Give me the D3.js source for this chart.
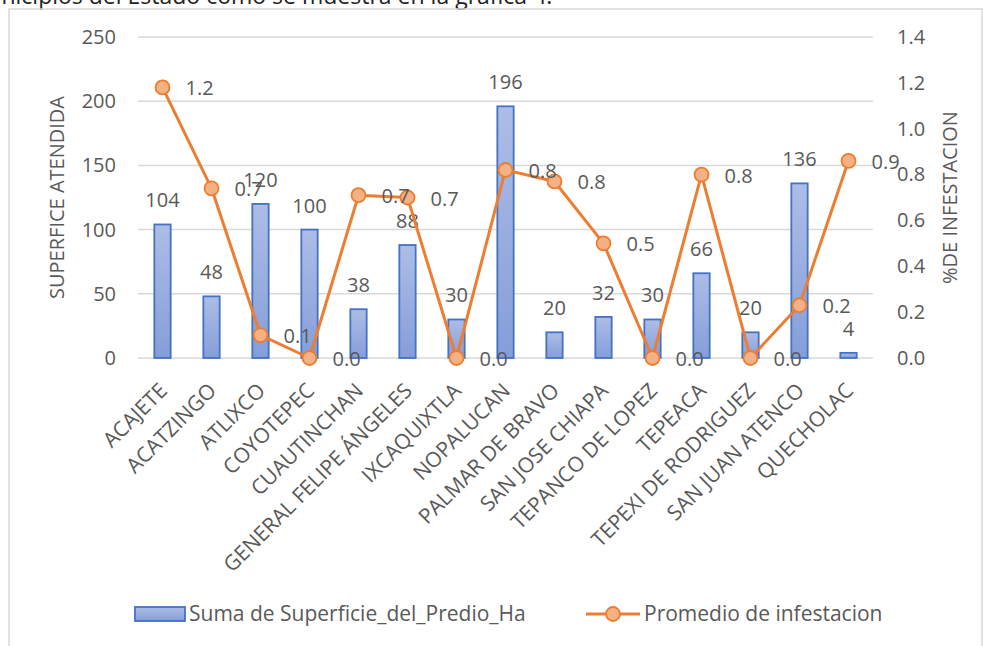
<!DOCTYPE html>
<html>
<head>
<meta charset="utf-8">
<script src="https://cdnjs.cloudflare.com/ajax/libs/d3/7.8.5/d3.min.js"></script>
<style>
  html, body { margin: 0; padding: 0; background: #fff; overflow: hidden; }
  svg text { font-family: "Open Sans", "Noto Sans", sans-serif; }
</style>
</head>
<body>
<div id="chart"></div>
<script>
const municipios = ['ACAJETE', 'ACATZINGO', 'ATLIXCO', 'COYOTEPEC', 'CUAUTINCHAN',
    'GENERAL FELIPE ÁNGELES', 'IXCAQUIXTLA', 'NOPALUCAN', 'PALMAR DE BRAVO',
    'SAN JOSE CHIAPA', 'TEPANCO DE LOPEZ', 'TEPEACA', 'TEPEXI DE RODRIGUEZ',
    'SAN JUAN ATENCO', 'QUECHOLAC'];
const superficie = [104, 48, 120, 100, 38, 88, 30, 196, 20, 32, 30, 66, 20, 136, 4];
const infestacion = [1.18, 0.74, 0.10, 0.0, 0.71, 0.70, 0.0, 0.82, 0.77, 0.50, 0.0, 0.80, 0.0, 0.23, 0.86];
const leftTicks = [0, 50, 100, 150, 200, 250];
const rightTicks = [0, 0.2, 0.4, 0.6, 0.8, 1.0, 1.2, 1.4];

const width = 983,
    height = 646;

const textGray = '#595959',
    gridColor = '#d9d9d9',
    barStroke = '#4472c4',
    lineColor = '#ed7d31',
    markerFill = '#f4b183';

const margin = { left: 138, right: 110, top: 37, bottom: 288 };

const svg = d3.select('#chart').append('svg')
    .attr('width', width)
    .attr('height', height);

// texto de la pagina cortado arriba
svg.append('text')
    .attr('x', -34)
    .attr('y', 4)
    .attr('font-size', 23)
    .attr('fill', '#222')
    .text('municipios del Estado como se muestra en la gráfica 4.');

// marco del grafico
svg.append('rect')
    .attr('x', 9)
    .attr('y', 9)
    .attr('width', 973)
    .attr('height', 660)
    .attr('fill', 'none')
    .attr('stroke', gridColor)
    .attr('stroke-width', 1.5);

const x = d3.scaleBand()
    .domain(municipios)
    .range([margin.left, width - margin.right])
    .paddingInner(0)
    .paddingOuter(0);

const yLeft = d3.scaleLinear()
    .domain([0, 250])
    .range([height - margin.bottom, margin.top]);

const yRight = d3.scaleLinear()
    .domain([0, 1.4])
    .range([height - margin.bottom, margin.top]);

const cx = d => x(d) + x.bandwidth() / 2;

// gridlines
svg.append('g')
    .selectAll('line')
    .data(leftTicks)
    .enter()
    .append('line')
    .attr('x1', margin.left)
    .attr('x2', width - margin.right)
    .attr('y1', d => yLeft(d))
    .attr('y2', d => yLeft(d))
    .attr('stroke', gridColor)
    .attr('stroke-width', 1.5);

// eje izquierdo
const leftAxis = svg.append('g')
    .attr('transform', 'translate(' + (margin.left - 22) + ',0)')
    .call(d3.axisLeft(yLeft).tickValues(leftTicks).tickSize(0).tickPadding(0));
leftAxis.select('.domain').remove();
leftAxis.selectAll('text')
    .attr('font-size', 20)
    .attr('fill', textGray)
    .style('font-family', '"Open Sans", sans-serif');

// eje derecho
const rightAxis = svg.append('g')
    .attr('transform', 'translate(' + (width - margin.right + 24) + ',0)')
    .call(d3.axisRight(yRight).tickValues(rightTicks).tickSize(0).tickPadding(0).tickFormat(d3.format('.1f')));
rightAxis.select('.domain').remove();
rightAxis.selectAll('text')
    .attr('font-size', 20)
    .attr('fill', textGray)
    .style('font-family', '"Open Sans", sans-serif');

// titulos de ejes
svg.append('text')
    .attr('transform', 'translate(64,' + (yLeft(125)) + ') rotate(-90)')
    .attr('text-anchor', 'middle')
    .attr('font-size', 20)
    .attr('fill', textGray)
    .text('SUPERFICE ATENDIDA');

svg.append('text')
    .attr('transform', 'translate(957,' + (yLeft(125)) + ') rotate(-90)')
    .attr('text-anchor', 'middle')
    .attr('font-size', 20)
    .attr('fill', textGray)
    .text('%DE INFESTACION');

// degradado de barras
const defs = svg.append('defs');
const grad = defs.append('linearGradient')
    .attr('id', 'barGrad')
    .attr('x1', 0).attr('y1', 0).attr('x2', 0).attr('y2', 1);
grad.append('stop').attr('offset', '0%').attr('stop-color', '#adbde6');
grad.append('stop').attr('offset', '100%').attr('stop-color', '#859ed9');

const barW = x.bandwidth() / 3;

svg.append('g')
    .selectAll('rect')
    .data(superficie)
    .enter()
    .append('rect')
    .attr('x', (d, i) => cx(municipios[i]) - barW / 2)
    .attr('y', d => yLeft(d))
    .attr('width', barW)
    .attr('height', d => yLeft(0) - yLeft(d))
    .attr('fill', 'url(#barGrad)')
    .attr('stroke', barStroke)
    .attr('stroke-width', 1.8);

// etiquetas de barras
svg.append('g')
    .selectAll('text')
    .data(superficie)
    .enter()
    .append('text')
    .attr('x', (d, i) => cx(municipios[i]))
    .attr('y', d => yLeft(d) - 17)
    .attr('text-anchor', 'middle')
    .attr('font-size', 20)
    .attr('fill', textGray)
    .text(d => d);

// linea
const line = d3.line()
    .x((d, i) => cx(municipios[i]))
    .y(d => yRight(d));

svg.append('path')
    .datum(infestacion)
    .attr('d', line)
    .attr('fill', 'none')
    .attr('stroke', lineColor)
    .attr('stroke-width', 3)
    .attr('stroke-linejoin', 'round');

svg.append('g')
    .selectAll('circle')
    .data(infestacion)
    .enter()
    .append('circle')
    .attr('cx', (d, i) => cx(municipios[i]))
    .attr('cy', d => yRight(d))
    .attr('r', 7)
    .attr('fill', markerFill)
    .attr('stroke', lineColor)
    .attr('stroke-width', 1.8);

// etiquetas de linea
svg.append('g')
    .selectAll('text')
    .data(infestacion)
    .enter()
    .append('text')
    .attr('x', (d, i) => cx(municipios[i]) + 23)
    .attr('y', d => yRight(d) + 8)
    .attr('font-size', 20)
    .attr('fill', textGray)
    .text(d => d3.format('.1f')(d));

// etiquetas eje x
svg.append('g')
    .selectAll('text')
    .data(municipios)
    .enter()
    .append('text')
    .attr('transform', d => 'translate(' + (cx(d) + 6) + ',' + (yLeft(0) + 34) + ') rotate(-45)')
    .attr('text-anchor', 'end')
    .attr('font-size', 21)
    .attr('fill', textGray)
    .text(d => d);

// leyenda
const legend = svg.append('g');
legend.append('rect')
    .attr('x', 135)
    .attr('y', 607)
    .attr('width', 50)
    .attr('height', 14)
    .attr('fill', 'url(#barGrad)')
    .attr('stroke', barStroke)
    .attr('stroke-width', 1.8);
legend.append('text')
    .attr('x', 189)
    .attr('y', 621)
    .attr('font-size', 21)
    .attr('fill', textGray)
    .text('Suma de Superficie_del_Predio_Ha');

legend.append('line')
    .attr('x1', 586).attr('x2', 640)
    .attr('y1', 614).attr('y2', 614)
    .attr('stroke', lineColor)
    .attr('stroke-width', 3);
legend.append('circle')
    .attr('cx', 613)
    .attr('cy', 614)
    .attr('r', 7)
    .attr('fill', markerFill)
    .attr('stroke', lineColor)
    .attr('stroke-width', 1.8);
legend.append('text')
    .attr('x', 644)
    .attr('y', 621)
    .attr('font-size', 21)
    .attr('fill', textGray)
    .text('Promedio de infestacion');
</script>
</body>
</html>
